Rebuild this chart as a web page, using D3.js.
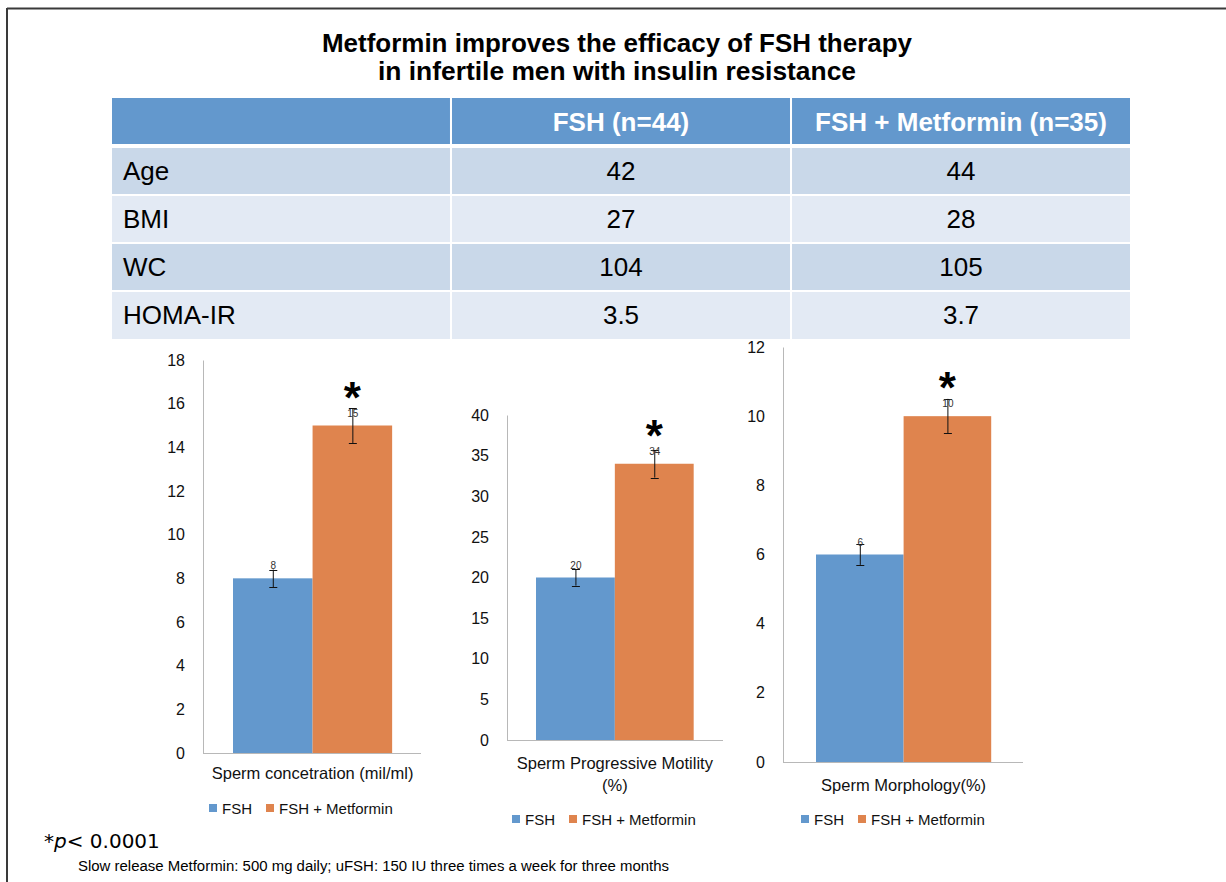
<!DOCTYPE html>
<html>
<head>
<meta charset="utf-8">
<script src="https://cdn.jsdelivr.net/npm/d3@7"></script>
<style>
  body { margin: 0; background: #fff; }
  svg { display: block; }
  .narrow { font-family: "Liberation Sans Narrow", "Liberation Sans", sans-serif; }
  .plain { font-family: "Liberation Sans", "Open Sans", sans-serif; }
  .wide { font-family: "DejaVu Sans", sans-serif; }
</style>
</head>
<body>
<svg id="chart" width="1226" height="882"></svg>
<script>
// baseline table
const tableHeaders = ["", "FSH (n=44)", "FSH + Metformin (n=35)"];
const tableRows = ["Age", "BMI", "WC", "HOMA-IR"];
const fshBaseline = ["42", "27", "104", "3.5"];
const metBaseline = ["44", "28", "105", "3.7"];

// outcome charts
const seriesNames = ["FSH", "FSH + Metformin"];
const outcomeLabels = [["Sperm concetration (mil/ml)"], ["Sperm Progressive Motility", "(%)"], ["Sperm Morphology(%)"]];
const fshValues = [8, 20, 6];
const metValues = [15, 34, 10];
const fshErrors = [0.4, 1.0, 0.3];
const metErrors = [0.8, 1.7, 0.5];
const axisMax = [18, 40, 12];
const axisStep = [2, 5, 2];

const blue = "#6398cd", orange = "#df844e";

var svg = d3.select("#chart");

// frame lines (top and left only)
svg.append("line").attr("x1", 7).attr("x2", 1226).attr("y1", 8.5).attr("y2", 8.5)
  .attr("stroke", "#3a3a3a").attr("stroke-width", 2);
svg.append("line").attr("x1", 7).attr("x2", 7).attr("y1", 8).attr("y2", 882)
  .attr("stroke", "#3a3a3a").attr("stroke-width", 2);

// title
var title = ["Metformin improves the efficacy of FSH therapy", "in infertile men with insulin resistance"];
var titleW = [590, 478];
svg.selectAll(".title").data(title).enter().append("text")
  .attr("class", "title plain")
  .attr("x", 617).attr("y", (d, i) => 52 + i * 28)
  .attr("text-anchor", "middle")
  .attr("font-size", 25).attr("font-weight", "bold").attr("fill", "#000")
  .attr("textLength", (d, i) => titleW[i]).attr("lengthAdjust", "spacingAndGlyphs")
  .text(d => d);

// table
var colX = d3.scaleBand().domain(d3.range(3)).range([112, 1130]).paddingInner(0.006);
var rowY = [98, 148, 196, 244, 292];
var rowH = [46, 46, 46, 46, 47];
var tbl = svg.append("g");
tableHeaders.forEach(function(h, c) {
  tbl.append("rect").attr("x", colX(c)).attr("y", rowY[0]).attr("width", colX.bandwidth()).attr("height", rowH[0])
    .attr("fill", blue);
  if (h) tbl.append("text").attr("class", "plain")
    .attr("x", colX(c) + colX.bandwidth() / 2).attr("y", rowY[0] + 33)
    .attr("text-anchor", "middle").attr("font-size", 26).attr("font-weight", "bold").attr("fill", "#fff")
    .text(h);
});
tableRows.forEach(function(r, i) {
  var cells = [r, fshBaseline[i], metBaseline[i]];
  cells.forEach(function(v, c) {
    tbl.append("rect").attr("x", colX(c)).attr("y", rowY[i + 1]).attr("width", colX.bandwidth()).attr("height", rowH[i + 1])
      .attr("fill", i % 2 === 0 ? "#c9d8e9" : "#e3eaf4");
    tbl.append("text").attr("class", "plain")
      .attr("x", c === 0 ? colX(c) + 11 : colX(c) + colX.bandwidth() / 2)
      .attr("y", rowY[i + 1] + 32)
      .attr("text-anchor", c === 0 ? "start" : "middle")
      .attr("font-size", 26).attr("fill", "#000")
      .text(v);
  });
});

// chart panels: axis x, top y, bottom y, right end of x axis
var panels = [
  { x0: 203, top: 360, bottom: 753, x1: 421, barL: 233, labelY: 779, legendY: 809, legendX: 209 },
  { x0: 507, top: 415, bottom: 740, x1: 723, barL: 536, labelY: 769, legendY: 820, legendX: 512 },
  { x0: 783, top: 347, bottom: 762, x1: 1023, barL: 816, labelY: 791, legendY: 820, legendX: 801 }
];

panels.forEach(function(p, k) {
  var g = svg.append("g");
  var y = d3.scaleLinear().domain([0, axisMax[k]]).range([p.bottom, p.top]);
  var barR = p.barL + (p.x1 - p.x0) * 0.73;
  var x = d3.scaleBand().domain(seriesNames).range([p.barL, barR]).padding(0);

  var yAxis = d3.axisLeft(y).tickValues(d3.range(0, axisMax[k] + 0.001, axisStep[k])).tickSize(0).tickPadding(18);
  var ax = g.append("g").attr("transform", "translate(" + p.x0 + ",0)").call(yAxis);
  ax.select(".domain").attr("stroke", "#b8b8b8");
  ax.selectAll("text").attr("class", "plain").attr("font-size", 16).attr("fill", "#111");

  g.append("line").attr("x1", p.x0).attr("x2", p.x1).attr("y1", p.bottom + 0.5).attr("y2", p.bottom + 0.5)
    .attr("stroke", "#b8b8b8");

  var vals = [fshValues[k], metValues[k]];
  var errs = [fshErrors[k], metErrors[k]];
  var cols = [blue, orange];

  g.selectAll(".bar").data(seriesNames).enter().append("rect")
    .attr("x", d => x(d)).attr("width", x.bandwidth())
    .attr("y", (d, i) => y(vals[i])).attr("height", (d, i) => p.bottom - y(vals[i]))
    .attr("fill", (d, i) => cols[i]);

  // error bars
  seriesNames.forEach(function(s, i) {
    var cx = x(s) + x.bandwidth() / 2 + 0.5;
    var lo = y(vals[i] - errs[i]), hi = y(vals[i] + errs[i]);
    g.append("line").attr("x1", cx).attr("x2", cx).attr("y1", lo).attr("y2", hi).attr("stroke", "#111");
    [lo, hi].forEach(function(yy) {
      g.append("line").attr("x1", cx - 4).attr("x2", cx + 4).attr("y1", Math.round(yy) + 0.5).attr("y2", Math.round(yy) + 0.5)
        .attr("stroke", "#111");
    });
    g.append("text").attr("class", "plain")
      .attr("x", cx).attr("y", y(vals[i]) - 9)
      .attr("text-anchor", "middle").attr("font-size", 10).attr("fill", "#333")
      .text(vals[i]);
  });

  // significance star on the metformin bar
  g.append("text").attr("class", "plain")
    .attr("x", x(seriesNames[1]) + x.bandwidth() / 2).attr("y", y(metValues[k]) - 13)
    .attr("text-anchor", "middle").attr("font-size", 44).attr("font-weight", "bold").attr("fill", "#000")
    .text("*");

  // category label
  g.selectAll(".cat").data(outcomeLabels[k]).enter().append("text")
    .attr("class", "plain")
    .attr("x", (p.barL + barR) / 2).attr("y", (d, i) => p.labelY + i * 22)
    .attr("text-anchor", "middle").attr("font-size", 16.5).attr("fill", "#111")
    .text(d => d);

  // legend
  var lx = [p.legendX, p.legendX + 57];
  seriesNames.forEach(function(s, i) {
    g.append("rect").attr("x", lx[i]).attr("y", p.legendY - 5).attr("width", 8).attr("height", 8).attr("fill", cols[i]);
    g.append("text").attr("class", "plain")
      .attr("x", lx[i] + 13).attr("y", p.legendY + 5)
      .attr("font-size", 15).attr("fill", "#111")
      .text(s);
  });
});

// footnotes
var fn = svg.append("text").attr("class", "wide").attr("x", 44).attr("y", 848).attr("font-size", 20).attr("fill", "#000");
fn.append("tspan").text("*");
fn.append("tspan").attr("font-style", "italic").text("p");
fn.append("tspan").text("< 0.0001");

svg.append("text").attr("class", "narrow")
  .attr("x", 78).attr("y", 871).attr("font-size", 14).attr("fill", "#000")
  .attr("textLength", 591).attr("lengthAdjust", "spacingAndGlyphs")
  .text("Slow release  Metformin: 500 mg daily; uFSH: 150 IU three times a week for three months");
</script>
</body>
</html>
